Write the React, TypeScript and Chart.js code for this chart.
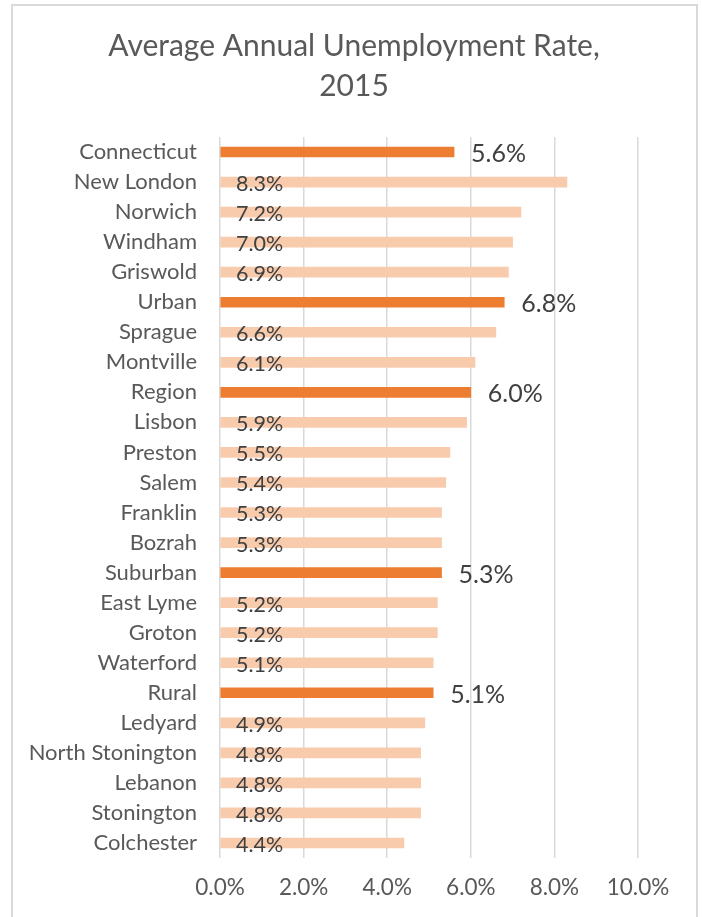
import React, { useEffect, useRef } from "react";
import { Chart, registerables } from "chart.js";

Chart.register(...registerables);

const categories = [
  "Connecticut", "New London", "Norwich", "Windham", "Griswold", "Urban",
  "Sprague", "Montville", "Region", "Lisbon", "Preston", "Salem", "Franklin",
  "Bozrah", "Suburban", "East Lyme", "Groton", "Waterford", "Rural", "Ledyard",
  "North Stonington", "Lebanon", "Stonington", "Colchester",
];
const values = [
  5.6, 8.3, 7.2, 7.0, 6.9, 6.8, 6.6, 6.1, 6.0, 5.9, 5.5, 5.4, 5.3, 5.3, 5.3,
  5.2, 5.2, 5.1, 5.1, 4.9, 4.8, 4.8, 4.8, 4.4,
];
const highlighted = ["Connecticut", "Urban", "Region", "Suburban", "Rural"];
const xMin = 0;
const xMax = 10;
const xStep = 2;
const titleLines = ["Average Annual Unemployment Rate,", "2015"];

const FONT = "Lato, 'Open Sans', sans-serif";
const DARK = "#ED7D31";
const LIGHT = "#F8CBAD";

const titlePlugin = {
  id: "customTitle",
  afterDraw(chart: any) {
    const ctx = chart.ctx;
    ctx.save();
    ctx.font = `30px ${FONT}`;
    ctx.fillStyle = "#595959";
    ctx.textAlign = "center";
    ctx.textBaseline = "middle";
    titleLines.forEach((line, i) => {
      ctx.fillText(line, 354, 46 + i * 40);
    });
    ctx.restore();
  },
};

const labelPlugin = {
  id: "valueLabels",
  afterDatasetsDraw(chart: any) {
    const ctx = chart.ctx;
    const meta = chart.getDatasetMeta(0);
    meta.data.forEach((bar: any, i: number) => {
      const txt = values[i].toFixed(1) + "%";
      ctx.save();
      ctx.textBaseline = "middle";
      ctx.textAlign = "left";
      ctx.fillStyle = "#404040";
      if (highlighted.includes(categories[i])) {
        ctx.font = `25px ${FONT}`;
        ctx.fillText(txt, bar.x + 17, bar.y + 2);
      } else {
        ctx.font = `21.5px ${FONT}`;
        ctx.fillText(txt, chart.chartArea.left + 16, bar.y + 2);
      }
      ctx.restore();
    });
  },
};

export default function App() {
  const ref = useRef<HTMLCanvasElement | null>(null);

  useEffect(() => {
    document.body.style.margin = "0";
    if (!ref.current) return;
    const chart = new Chart(ref.current, {
      type: "bar",
      data: {
        labels: categories,
        datasets: [
          {
            data: values,
            backgroundColor: categories.map((c) => (highlighted.includes(c) ? DARK : LIGHT)),
            barThickness: 10,
            borderWidth: 0,
          },
        ],
      },
      options: {
        indexAxis: "y",
        animation: false,
        responsive: false,
        devicePixelRatio: 1,
        layout: { padding: { left: 0, right: 64, top: 137, bottom: 0 } },
        plugins: {
          legend: { display: false },
          tooltip: { enabled: false },
          title: { display: false },
        },
        scales: {
          x: {
            min: xMin,
            max: xMax,
            position: "bottom",
            ticks: {
              stepSize: xStep,
              color: "#595959",
              font: { family: FONT, size: 22.5 },
              padding: 16,
              callback: (v: any) => Number(v).toFixed(1) + "%",
            },
            grid: { color: "#d9d9d9", lineWidth: 1.5, drawTicks: false },
            border: { display: false },
            afterFit: (s: any) => {
              s.height = 59;
            },
          },
          y: {
            ticks: {
              color: "#595959",
              font: { family: FONT, size: 22 },
              padding: 23,
            },
            grid: { display: false, drawTicks: false },
            border: { display: false },
            afterFit: (s: any) => {
              s.width = 220;
            },
          },
        },
      },
      plugins: [labelPlugin, titlePlugin],
    });
    return () => chart.destroy();
  }, []);

  return (
    <div style={{ position: "relative", width: 702, height: 917, overflow: "hidden", background: "#fff" }}>
      <canvas ref={ref} width={702} height={917} style={{ position: "absolute", left: 0, top: 0 }} />
      <div
        style={{
          position: "absolute",
          left: 11,
          top: 4,
          width: 687,
          height: 1000,
          boxSizing: "border-box",
          border: "2px solid #d9d9d9",
          pointerEvents: "none",
        }}
      />
    </div>
  );
}
